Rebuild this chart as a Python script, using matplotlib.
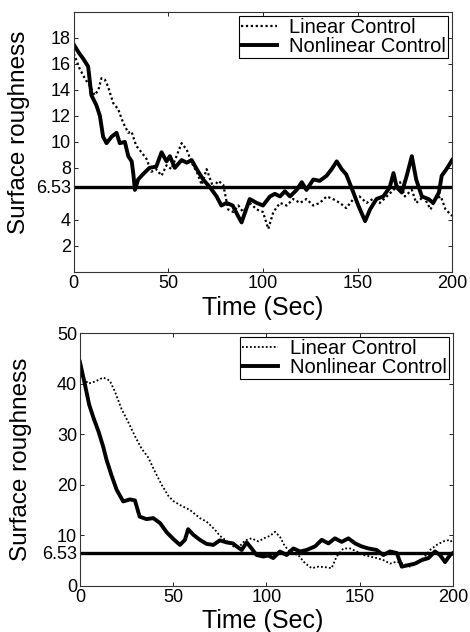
import matplotlib
matplotlib.use("Agg")
import matplotlib.pyplot as plt

plt.rcParams['font.family'] = ['Liberation Sans', 'DejaVu Sans']

# top panel: surface roughness, target 6.53
top_lin_t = [0, 3.2, 5.8, 8.5, 11, 13, 14.6, 16.4, 18, 20.8, 23.5, 26, 28.8, 30.5, 33,
             35.8, 38.4, 41, 43.6, 46.4, 49, 51.6, 54.3, 57, 59.7, 62.3, 65, 67.6, 70.2,
             73.7, 76.4, 79, 81.6, 84.4, 87, 89.5, 93, 96.7, 100, 102.8, 105.5, 109,
             112.5, 116, 119.6, 123, 126.6, 130, 133.7, 137, 140.7, 144, 147.8, 151,
             154.8, 158, 161.8, 165.4, 169, 172.5, 175, 178.7, 181, 185, 188.6, 191,
             194, 196.5, 200]
top_lin_v = [16.8, 15.6, 14.9, 14.3, 13.6, 14.0, 14.9, 14.8, 14.3, 13.0, 12.5, 11.5,
             10.7, 10.8, 9.7, 9.2, 8.7, 7.7, 7.9, 7.4, 8.2, 7.9, 8.9, 9.9, 9.4, 8.4,
             7.7, 6.7, 7.9, 6.5, 7.0, 6.7, 4.8, 4.6, 5.1, 4.6, 5.3, 4.8, 4.6, 3.3, 4.6,
             5.3, 5.1, 5.6, 5.3, 5.6, 5.1, 5.3, 5.8, 5.6, 5.3, 4.9, 5.6, 5.8, 5.3, 5.6,
             5.3, 5.8, 6.3, 6.9, 5.8, 6.3, 5.3, 5.8, 4.8, 5.6, 5.8, 4.8, 4.3]

top_non_t = [0, 2.5, 5, 7.6, 9.3, 12, 13.8, 15.5, 17.3, 20, 22.6, 24.3, 27, 28.8, 30.6,
             31.5, 32.3, 34, 36.5, 40, 43.6, 46.4, 49, 50.8, 53.4, 57, 59.7, 62.3, 65,
             68.4, 72, 75.5, 78, 80.7, 84, 86.8, 88.7, 93, 96.7, 100, 103.7, 106.3, 109,
             111.6, 114.3, 117.8, 120.5, 123, 126.6, 130, 133.7, 136.3, 139, 141.6, 144,
             147.8, 150.4, 154, 156.6, 160, 163.6, 167, 169, 170.7, 173.4, 176, 178.7,
             181, 184, 187.5, 190, 193, 194.5, 197, 200]
top_non_v = [17.5, 16.9, 16.4, 15.8, 13.6, 12.8, 12.0, 10.4, 9.9, 10.4, 10.7, 9.9, 10.0,
             8.9, 8.5, 7.5, 6.3, 7.1, 7.5, 8.0, 8.1, 9.2, 8.5, 8.9, 8.0, 8.6, 8.4, 8.6,
             7.9, 7.1, 6.5, 5.8, 5.1, 5.3, 5.1, 4.3, 3.8, 5.6, 5.3, 5.1, 5.8, 6.0, 5.8,
             6.2, 5.8, 6.3, 6.9, 6.3, 7.1, 7.0, 7.4, 7.9, 8.5, 7.9, 7.5, 6.1, 5.1, 3.9,
             4.8, 5.6, 5.8, 6.5, 7.6, 6.5, 6.1, 7.4, 8.9, 7.1, 5.8, 5.6, 5.3, 6.1, 7.4,
             7.9, 8.6]

# bottom panel
bot_lin_t = [0, 1, 4.5, 8, 12.5, 16, 18.8, 22.3, 25.9, 29.5, 33, 36.6, 40.2, 43.8, 47.4,
             50, 53.6, 59, 64.3, 67.9, 72.4, 75, 78.6, 82.2, 85.8, 88.5, 92, 95.6, 99.2,
             101.9, 104.6, 107.2, 109.9, 113.5, 117, 120.6, 124.2, 127.8, 131.4, 134.9,
             137.6, 141.2, 144.8, 148.3, 152, 155.5, 159, 162.6, 166.2, 169.8, 173.4,
             176.9, 180.5, 184.1, 187.7, 191.2, 194.8, 198.4, 200]
bot_lin_v = [44.0, 41.4, 40.0, 40.4, 41.2, 40.6, 38.4, 35.0, 32.4, 29.6, 27.2, 25.4,
             22.6, 20.0, 17.8, 16.8, 16.0, 15.0, 13.4, 12.7, 11.1, 9.9, 8.9, 7.8, 7.9,
             9.0, 9.4, 8.8, 9.5, 9.9, 10.7, 9.7, 7.8, 6.5, 6.1, 4.5, 3.5, 3.8, 3.7, 3.5,
             5.8, 7.4, 7.4, 6.8, 6.1, 5.8, 5.5, 5.1, 4.4, 4.8, 4.4, 3.8, 4.4, 5.5, 7.1,
             8.1, 8.8, 9.1, 8.4]

bot_non_t = [0, 2.7, 5, 7.5, 10, 12.5, 14.3, 17, 19.7, 23.2, 26.8, 29.5, 32, 35.7, 39.3,
             43, 46.5, 50, 53.6, 56.3, 58, 60.8, 64.3, 67.9, 71.5, 75, 78.6, 82, 84,
             86.7, 89.4, 92, 94.7, 98.3, 101, 103.6, 107.2, 110.8, 114.4, 118, 121.5,
             126, 129.6, 133.2, 136.7, 140.3, 143.9, 147.5, 151, 154.6, 159, 162.6,
             166.2, 169.8, 172.5, 176, 179.6, 183.2, 186.8, 190.3, 193, 195.7, 198.4, 200]
bot_non_v = [44.3, 39.8, 35.8, 33.0, 30.5, 27.5, 24.9, 21.8, 19.0, 16.7, 17.1, 16.9,
             13.7, 13.2, 13.4, 12.4, 10.6, 9.3, 8.1, 9.1, 11.2, 10.1, 9.1, 8.3, 8.1, 9.0,
             8.6, 8.4, 7.8, 7.1, 8.6, 7.4, 6.1, 5.8, 6.0, 5.5, 6.8, 6.1, 7.4, 6.8, 7.1,
             7.8, 9.1, 8.4, 9.4, 8.7, 9.4, 8.4, 7.8, 7.4, 7.1, 6.1, 6.8, 6.5, 3.8, 4.1,
             4.4, 5.1, 5.5, 6.8, 6.1, 4.7, 6.1, 6.5]

target = 6.53
top_yticks = [2, 4, target, 8, 10, 12, 14, 16, 18]
bot_yticks = [0, target, 10, 20, 30, 40, 50]
xticks = [0, 50, 100, 150, 200]

fig = plt.figure(figsize=(4.7, 6.32), dpi=100)
ax1 = fig.add_axes([0.157, 0.570, 0.805, 0.411])
ax2 = fig.add_axes([0.170, 0.073, 0.794, 0.400])


def style(ax, yticks, ylim, ylab_xy, xlab_xy):
    ax.set_xlim(0, 200)
    ax.set_ylim(*ylim)
    ax.set_xticks(xticks)
    ax.set_xticklabels([str(x) for x in xticks])
    ax.set_yticks(yticks)
    ax.set_yticklabels(['%g' % y for y in yticks])
    ax.tick_params(direction='in', length=3, width=0.6, top=True, right=True,
                   labelsize=13, pad=2, colors='black')
    for s in ax.spines.values():
        s.set_linewidth(0.8)
        s.set_color('#333333')
    ax.set_ylabel('Surface roughness', fontsize=17.5)
    ax.set_xlabel('Time (Sec)', fontsize=18)
    ax.yaxis.set_label_coords(*ylab_xy)
    ax.xaxis.set_label_coords(*xlab_xy)
    ax.legend(loc='upper right', fontsize=14.5, frameon=True, fancybox=False,
              edgecolor='black', framealpha=1, borderaxespad=0.2, handlelength=1.8,
              borderpad=0.1, labelspacing=0.0, handletextpad=0.6)
    ax.get_legend().get_frame().set_linewidth(0.8)


ax1.plot(top_lin_t, top_lin_v, color='black', lw=1.6, ls=(0, (1, 1.2)),
         label='Linear Control')
ax1.plot(top_non_t, top_non_v, color='black', lw=2.8, label='Nonlinear Control')
ax1.axhline(target, color='black', lw=2.4)
style(ax1, top_yticks, (0, 20), (-0.116, 0.535), (0.5, -0.092))

ax2.plot(bot_lin_t, bot_lin_v, color='black', lw=1.3, ls=(0, (1, 1.2)),
         label='Linear Control')
ax2.plot(bot_non_t, bot_non_v, color='black', lw=2.8, label='Nonlinear Control')
ax2.axhline(target, color='black', lw=2.4)
style(ax2, bot_yticks, (0, 50), (-0.129, 0.5), (0.49, -0.092))

fig.savefig('out.png', dpi=100)
